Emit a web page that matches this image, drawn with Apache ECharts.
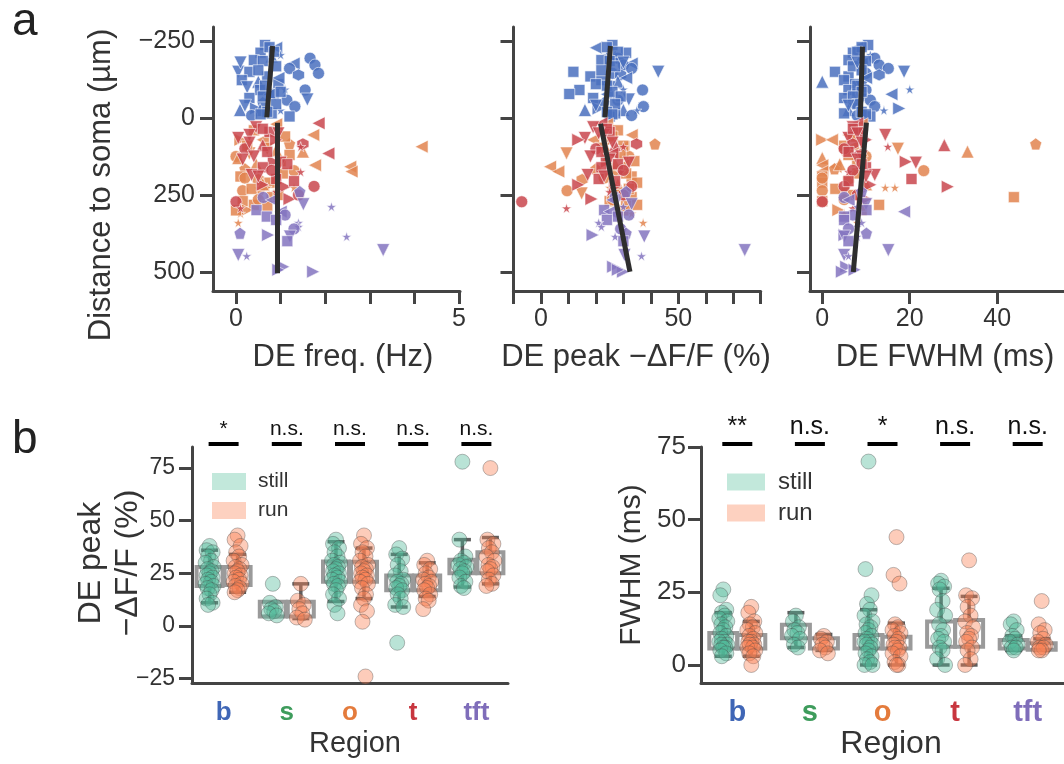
<!DOCTYPE html>
<html><head><meta charset="utf-8">
<script src="https://cdn.jsdelivr.net/npm/echarts@6/dist/echarts.min.js"></script>
<style>html,body{margin:0;padding:0;background:#fff}#c{width:1064px;height:764px}</style>
</head><body><div id="c"></div>
<script>
// ---------- DATA ----------
const REGIONS = ['b','s','o','t','tft'];
// panel a: per region distance to soma (µm), marker shape code, DE freq (Hz), DE peak -ΔF/F (%), DE FWHM (ms)
const bDist = [-237,-228,-212,-205,-200,-194,-188,-177,-172,-161,-150,-150,-145,-140,-135,-123,-118,-110,-100,-93,-91,-91,-78,-77,-65,-60,-58,-50,-37,-31,-26,-26,-25,-15,-8,-5,-230,-215,-185,-168,-155,-130,-105,-85,-70,-45,-40,-20,-12,-180];
const bShape = ['q','l','q','s','u','c','q','l','c','c','d','q','c','h','q','q','u','q','d','s','c','q','q','l','q','d','c','p','c','r','u','u','s','q','c','q','q','q','q','q','q','l','q','q','q','q','d','q','q','d'];
const bFreq = [0.65,0.9,0.55,1.0,0.8,1.66,0.4,1.29,1.77,1.2,0.05,0.3,1.85,1.4,0.7,0.13,0.5,0.95,0.25,1.1,1.55,0.54,0.85,0.75,0.3,1.6,1.14,0.6,1.32,0.45,0.09,0.54,1.0,0.8,0.35,1.2,0.75,0.85,0.6,0.9,0.5,0.95,0.65,1.0,0.6,0.9,0.2,0.7,0.55,0.1];
const bPeak = [26,20,31,24,27,28,22,33,30,33,42.7,11.8,26,29,18,22,28,20,25,30,37,14,10.3,24,19,32,28,23,37.3,21,16,30,34.9,27,33,25,24,28,25,27,22,31,24,26,29,27,20,24,26,30];
const bFwhm = [10.5,8,7,11,9,12,6,9,13,15.1,18.7,2.9,10,13,6,5,0,7.5,9,20,10,6,8,15.8,5,9,11,7,12,17.6,6,9,14.1,5,8,11,9,8,10,7,9,10,8,9,7,8,6,9,10,8];

const oDist = [20,40,55,71,71,84,93,100,109,115,125,130,140,153,158,165,171,174,190,200,210,226,226,236,245,257,270,282,299,310,340,300,60,90,105,120,150,180,195,215,230,250,265,285];
const oShape = ['l','q','l','r','l','p','l','d','u','d','c','u','q','l','l','p','c','l','q','h','q','s','s','c','d','q','q','q','r','s','s','q','q','q','u','q','u','q','c','u','q','q','c','q'];
const oFreq = [0.9,0.4,1.73,0.1,0.6,1.2,4.16,0.7,1.5,0.3,0.0,0.05,1.0,1.77,2.56,0.2,1.3,2.59,0.1,0.5,0.75,1.3,0.7,0.15,0.55,0.8,0.15,0.4,0.25,0.1,0.05,0.0,1.1,0.25,0.9,1.2,0.45,1.05,0.2,0.6,0.35,0.95,0.5,0.7];
const oPeak = [24,28,33,26,19,41.5,30,22,27,9.3,32,24,34,30,3.3,20,28,6.3,33,15,35,25,27,9.5,14.8,33,25,35,30,33,37.2,30,26,30,24,29,27,31,23,28,32,29,26,31];
const oFwhm = [9,8,6,0,2.2,48.8,7,17.3,33.2,5,10,0,8,0,3,2.8,23.2,0,0,6,0,14.4,16.6,0,5,43.8,0,13,3.7,5,8,9,7,5,9,6,4,8,0,10,3,7,5,9];

const tDist = [17,30,45,55,65,71,84,88,93,100,115,125,142,145,160,175,185,198,217,222,223,240,263,272,293,250,35,50,80,110,135,150,170,190,205];
const tShape = ['l','d','q','d','d','r','h','u','s','c','l','d','r','d','q','s','d','q','r','c','r','s','r','c','s','c','q','d','d','q','d','q','c','d','q'];
const tFreq = [1.85,0.45,0.75,0.3,0.05,0.9,1.5,0.6,1.45,0.2,2.07,0.4,0.85,1.0,0.6,1.45,0.35,0.9,0.6,1.75,1.1,0.9,1.2,0.0,0.1,1.4,0.6,0.95,0.3,0.7,0.15,1.15,0.8,0.5,1.3];
const tPeak = [22,19,25,23,16,13.6,34.8,27,30,20,26,18,24,32,22,29,17,21,13.6,33,27,25,18.4,-7,9.3,30,24,21,26,22,25,28,30,23,27];
const tFwhm = [8,7,9,14.4,6,10,7,27.9,15,5,8,9,19.1,21.4,10,6,12,20.4,11,5,28.7,9,10,0,7,8,7,8,9,6,8,9,7,10,6];

const fDist = [239,258,266,280,288,299,304,315,320,331,340,353,360,374,380,385,385,429,445,448,483,499,493,400];
const fShape = ['p','c','l','d','s','q','l','c','q','q','s','s','c','p','r','d','s','d','d','s','r','r','r','q'];
const fFreq = [1.43,0.61,0.8,1.51,2.14,0.46,1.0,1.1,0.69,0.9,1.4,1.4,1.3,0.09,0.72,1.21,2.48,3.3,0.05,0.24,1.06,1.73,0.95,1.15];
const fPeak = [31,27,26,33,30,23,25,32,28,24,21,22,29,31,18.8,37.6,27,74.2,30.4,36.6,26.3,29.9,28,30];
const fFwhm = [9,5,6,10,8,10.1,18.7,7,5,5,9,8,6,10.1,5.1,5,8,15.1,5,6,5.5,4.5,7.4,6];

// regression segments [x, distance]
const fitFreqUpper = [[0.82,-234],[0.69,-2]];
const fitFreqLower = [[0.93,15],[0.93,504]];
const fitPeakUpper = [[25.3,-234],[23.3,-2]];
const fitPeakLower = [[21.7,19],[32.4,499]];
const fitFwhmUpper = [[9.2,-232],[8.7,-2]];
const fitFwhmLower = [[10.1,15],[7.1,500]];

// panel b: per region values
const peakStill = [[38,36,35,33,31,30,28,27,26,25,24,23,22,21,20,19,18,17,15,13,11,10],[20,11,9,8,7,6,5],[41,39,37,35,33,31,30,29,28,27,26,25,24,23,22,21,20,19,17,15,13,10,6],[37,34,32,29,26,24,22,21,20,19,18,17,15,13,10,9,-8],[78,41,33,31,30,29,28,27,26,25,23,21,19,18]];
const peakRun = [[43,41,38,35,33,31,29,28,27,26,25,24,23,22,21,20,19,18,17,16],[20,12,10,8,6,4,3],[43,39,37,35,33,31,29,28,27,26,25,24,23,22,21,20,18,15,13,10,7,2,-24],[31,29,27,25,23,22,21,20,19,18,17,15,13,12,8],[75,41,39,37,35,33,31,29,28,27,26,24,22,20,19]];
const fwhmStill = [[26,24,19,18,17,16,15,14,13,12,11,10,9,8,8,7,7,6,6,5,4,3],[17,15,13,12,11,10,9,7,6],[70,33,24,21,19,17,15,14,13,12,11,10,9,8,8,7,7,6,5,4,3,2,1,0,0],[29,28,27,26,22,19,17,14,12,10,9,8,6,5,2,0],[15,14,12,10,9,8,7,6,6,5]];
const fwhmRun = [[20,18,15,14,13,12,11,10,9,8,8,7,7,6,6,5,4,3,0],[10,9,8,7,6,5,4],[44,31,28,14,13,12,11,10,9,8,7,6,6,5,4,3,1,0,0],[36,24,23,20,17,15,13,11,10,9,8,6,5,2,0],[22,14,12,11,9,8,7,6,6,5,5]];
// box stats [whisker low, q1, median, q3, whisker high]
const peakStillBox = [[11,19,23,28,36],[4.5,4.5,7,11.5,11.5],[11.6,21,26,30.6,40],[9,17,20,24,34],[18.5,25,28,31.5,41]];
const peakRunBox = [[16,19.5,24,28,34],[3.5,4.5,8,11.5,20],[13,21,25,30.5,37],[14,17,20,24,30],[20,25,29,35,42]];
const fwhmStillBox = [[3,5.7,8,11,18],[6,9.2,11,13.8,18],[0,5.7,8,10.3,19],[0,6.3,10,15,26.4],[5,5.7,7,8.6,10]];
const fwhmRunBox = [[3,5.7,8,10.3,15],[5,5.7,7,9.2,10.5],[0,5.7,7,9.7,14.4],[0,6.3,9,15.5,23.6],[5,5.2,6,7.5,9]];
const sigPeak = ['*','n.s.','n.s.','n.s.','n.s.'];
const sigFwhm = ['**','n.s.','*','n.s.','n.s.'];

// ---------- STYLE ----------
const FONT = 'Liberation Sans, Arial, Helvetica, sans-serif';
const AX = '#444';
const TXT = '#333';
const CAT_COLORS = ['#3F66B6','#3E9C5C','#E47B3C','#C8363F','#7F6DBA'];
const REG_COLORS = {b:'#4A70BE', o:'#E2844F', t:'#C9464D', tft:'#8474BF'};
const SYM = {
  c:['circle',0,12], q:['rect',0,11], u:['triangle',0,13], d:['triangle',180,13],
  l:['triangle',90,13], r:['triangle',-90,13],
  p:['path://M0,-1L0.951,-0.309L0.588,0.809L-0.588,0.809L-0.951,-0.309Z',0,12],
  s:['path://M0,-1L0.2245,-0.309L0.951,-0.309L0.363,0.118L0.588,0.809L0,0.382L-0.588,0.809L-0.363,0.118L-0.951,-0.309L-0.2245,-0.309Z',0,10],
  h:['path://M0,-1L0.866,-0.5L0.866,0.5L0,1L-0.866,0.5L-0.866,-0.5Z',0,12]
};
const JIT = [0,-3,3,-1.5,1.5,-4,4,-2,2];
const fmt = v => (v < 0 ? '\u2212' + Math.abs(v) : String(v));

function pts(xs, ys, shapes) {
  return xs.map((x, i) => { const s = SYM[shapes[i]]; return {value:[x, ys[i]], symbol:s[0], symbolRotate:s[1], symbolSize:s[2]}; });
}
function vAxis(grid, min, max, ticks, labels, fs, margin, inverse) {
  return {gridIndex:grid, type:'value', min, max, inverse:!!inverse,
    splitLine:{show:false},
    axisLine:{show:true, onZero:false, lineStyle:{color:AX, width:3}},
    axisTick:{show:true, length:13, lineStyle:{color:AX, width:3}, customValues:ticks},
    axisLabel:{show:labels.length > 0, customValues:labels, fontSize:fs, color:TXT, fontFamily:FONT, margin, formatter:fmt}};
}
function cAxis(grid, fs, margin) {
  const rich = {};
  REGIONS.forEach((r, i) => { rich[r] = {color:CAT_COLORS[i], fontSize:fs, fontWeight:'bold', fontFamily:FONT}; });
  return {gridIndex:grid, type:'category', data:REGIONS, boundaryGap:true,
    splitLine:{show:false},
    axisLine:{onZero:false, lineStyle:{color:AX, width:3}},
    axisTick:{alignWithLabel:true, length:13, lineStyle:{color:AX, width:3}},
    axisLabel:{margin, formatter:v => '{' + v + '|' + v + '}', rich}};
}

const series = [];
const metricSets = [
  [bFreq, oFreq, tFreq, fFreq, fitFreqUpper, fitFreqLower],
  [bPeak, oPeak, tPeak, fPeak, fitPeakUpper, fitPeakLower],
  [bFwhm, oFwhm, tFwhm, fFwhm, fitFwhmUpper, fitFwhmLower]
];
metricSets.forEach((m, k) => {
  const regs = [['b', m[0], bDist, bShape], ['o', m[1], oDist, oShape], ['t', m[2], tDist, tShape], ['tft', m[3], fDist, fShape]];
  regs.forEach(r => series.push({type:'scatter', xAxisIndex:k, yAxisIndex:k, silent:true, z:2,
    itemStyle:{color:REG_COLORS[r[0]], opacity:0.85, borderColor:'#fff', borderWidth:0.7},
    data:pts(r[1], r[2], r[3])}));
  [m[4], m[5]].forEach(seg => series.push({type:'line', xAxisIndex:k, yAxisIndex:k, silent:true, z:5,
    symbol:'none', data:seg, lineStyle:{color:'#2e2e2e', width:5}}));
});

function boxRender(stats, off, bw, cw) {
  return function (params, api) {
    const b = stats[params.dataIndex];
    const ci = api.value(0);
    const x = api.coord([ci, 0])[0] + off;
    const y = v => api.coord([ci, v])[1];
    const wl = {stroke:'#5f5f5f', lineWidth:3.5};
    return {type:'group', children:[
      {type:'line', shape:{x1:x, y1:y(b[3]), x2:x, y2:y(b[4])}, style:wl},
      {type:'line', shape:{x1:x - cw / 2, y1:y(b[4]), x2:x + cw / 2, y2:y(b[4])}, style:wl},
      {type:'line', shape:{x1:x, y1:y(b[1]), x2:x, y2:y(b[0])}, style:wl},
      {type:'line', shape:{x1:x - cw / 2, y1:y(b[0]), x2:x + cw / 2, y2:y(b[0])}, style:wl},
      {type:'rect', shape:{x:x - bw / 2, y:y(b[3]), width:bw, height:y(b[1]) - y(b[3])}, style:{fill:'none', stroke:'#9a9a9a', lineWidth:4}}
    ]};
  };
}
function stripData(groups, off) {
  const out = [];
  groups.forEach((g, ci) => g.forEach((v, j) => out.push({value:[ci, v], symbolOffset:[off + JIT[j % JIT.length], 0]})));
  return out;
}
function sigRender(labels, fs) {
  return function (params, api) {
    const p = api.coord([api.value(0), api.value(1)]);
    const ly = p[1] - 3;
    return {type:'group', children:[
      {type:'line', shape:{x1:p[0] - 15, y1:ly, x2:p[0] + 15, y2:ly}, style:{stroke:'#000', lineWidth:4}},
      {type:'text', x:p[0], y:ly - 4, style:{text:labels[params.dataIndex], fontSize:fs, fontFamily:FONT, fill:'#111', align:'center', verticalAlign:'bottom'}}
    ]};
  };
}
const STILL = {color:'rgba(80,186,152,0.5)', borderColor:'rgba(70,70,70,0.45)', borderWidth:1};
const RUN = {color:'rgba(250,128,82,0.5)', borderColor:'rgba(70,70,70,0.45)', borderWidth:1};
[[3, peakStill, peakRun, peakStillBox, peakRunBox, sigPeak, 85, 26, 21], [4, fwhmStill, fwhmRun, fwhmStillBox, fwhmRunBox, sigFwhm, 75, 28, 25]].forEach(p => {
  const [k, st, rn, sb, rb, sig, top, bw, sfs] = p;
  series.push({type:'custom', xAxisIndex:k, yAxisIndex:k, silent:true, z:1, renderItem:boxRender(sb, -14, bw, 17), data:sb.map((b, i) => [i].concat(b))});
  series.push({type:'custom', xAxisIndex:k, yAxisIndex:k, silent:true, z:1, renderItem:boxRender(rb, 14, bw, 17), data:rb.map((b, i) => [i].concat(b))});
  series.push({name:'still', type:'scatter', xAxisIndex:k, yAxisIndex:k, silent:true, z:2, symbolSize:15, itemStyle:STILL, data:stripData(st, -14)});
  series.push({name:'run', type:'scatter', xAxisIndex:k, yAxisIndex:k, silent:true, z:2, symbolSize:15, itemStyle:RUN, data:stripData(rn, 14)});
  series.push({type:'custom', xAxisIndex:k, yAxisIndex:k, silent:true, z:3, clip:false, renderItem:sigRender(sig, sfs), data:sig.map((s, i) => [i, top])});
});

const YA_TICKS = [-250, 0, 250, 500];
const option = {
  animation:false,
  backgroundColor:'#fff',
  grid:[
    {left:213, top:27, width:247, height:264},
    {left:513.5, top:27, width:247.2, height:264},
    {left:810, top:27, width:270, height:264},
    {left:192, top:447, width:316, height:236},
    {left:701, top:447, width:363, height:236}
  ],
  xAxis:[
    vAxis(0, -0.516, 5.022, [0,1,2,3,4,5], [0,5], 25, 16),
    vAxis(1, -10, 80, [-10,0,10,20,30,40,50,60,70,80], [0,50], 25, 16),
    vAxis(2, -2.8, 55.26, [0,20,40], [0,20,40], 25, 16),
    cAxis(3, 26, 17),
    cAxis(4, 29, 15)
  ],
  yAxis:[
    vAxis(0, -295.5, 561.7, YA_TICKS, YA_TICKS, 25, 18, true),
    vAxis(1, -295.5, 561.7, YA_TICKS, [], 25, 18, true),
    vAxis(2, -295.5, 561.7, YA_TICKS, [], 25, 18, true),
    vAxis(3, -27.1, 85, [-25,0,25,50,75], [-25,0,25,50,75], 23, 17),
    vAxis(4, -6.2, 75, [0,25,50,75], [0,25,50,75], 26, 15)
  ],
  legend:[
    {left:207, top:466, orient:'vertical', icon:'rect', itemWidth:34, itemHeight:17, itemGap:8, selectedMode:false,
      data:[{name:'still', itemStyle:{color:'#b3e2d2', borderWidth:0}}, {name:'run', itemStyle:{color:'#fdc6b0', borderWidth:0}}],
      textStyle:{fontSize:21, color:TXT, fontFamily:FONT, padding:[0,0,0,7]}},
    {left:722, top:465, orient:'vertical', icon:'rect', itemWidth:38, itemHeight:17, itemGap:7, selectedMode:false,
      data:[{name:'still', itemStyle:{color:'#b3e2d2', borderWidth:0}}, {name:'run', itemStyle:{color:'#fdc6b0', borderWidth:0}}],
      textStyle:{fontSize:24, color:TXT, fontFamily:FONT, padding:[0,0,0,8]}}
  ],
  graphic:[
    {type:'text', x:12, y:22, style:{text:'a', fontSize:46, fontFamily:FONT, fill:'#222', align:'left', verticalAlign:'middle'}},
    {type:'text', x:12, y:440, style:{text:'b', fontSize:46, fontFamily:FONT, fill:'#222', align:'left', verticalAlign:'middle'}},
    {type:'text', x:101, y:185, rotation:Math.PI / 2, style:{text:'Distance to soma (µm)', fontSize:31, fontFamily:FONT, fill:TXT, align:'center', verticalAlign:'middle'}},
    {type:'text', x:343, y:357, style:{text:'DE freq. (Hz)', fontSize:31, fontFamily:FONT, fill:TXT, align:'center', verticalAlign:'middle'}},
    {type:'text', x:636, y:357, style:{text:'DE peak \u2212\u0394F/F (%)', fontSize:31, fontFamily:FONT, fill:TXT, align:'center', verticalAlign:'middle'}},
    {type:'text', x:945, y:357, style:{text:'DE FWHM (ms)', fontSize:31, fontFamily:FONT, fill:TXT, align:'center', verticalAlign:'middle'}},
    {type:'text', x:91, y:563, rotation:Math.PI / 2, style:{text:'DE peak', fontSize:32, fontFamily:FONT, fill:TXT, align:'center', verticalAlign:'middle'}},
    {type:'text', x:128, y:563, rotation:Math.PI / 2, style:{text:'\u2212\u0394F/F (%)', fontSize:32, fontFamily:FONT, fill:TXT, align:'center', verticalAlign:'middle'}},
    {type:'text', x:632, y:565, rotation:Math.PI / 2, style:{text:'FWHM (ms)', fontSize:30, fontFamily:FONT, fill:TXT, align:'center', verticalAlign:'middle'}},
    {type:'text', x:355, y:744, style:{text:'Region', fontSize:29, fontFamily:FONT, fill:TXT, align:'center', verticalAlign:'middle'}},
    {type:'text', x:891, y:744, style:{text:'Region', fontSize:32, fontFamily:FONT, fill:TXT, align:'center', verticalAlign:'middle'}}
  ],
  series
};
const chart = echarts.init(document.getElementById('c'), null, {renderer:'canvas', width:1064, height:764});
chart.setOption(option);
</script></body></html>
